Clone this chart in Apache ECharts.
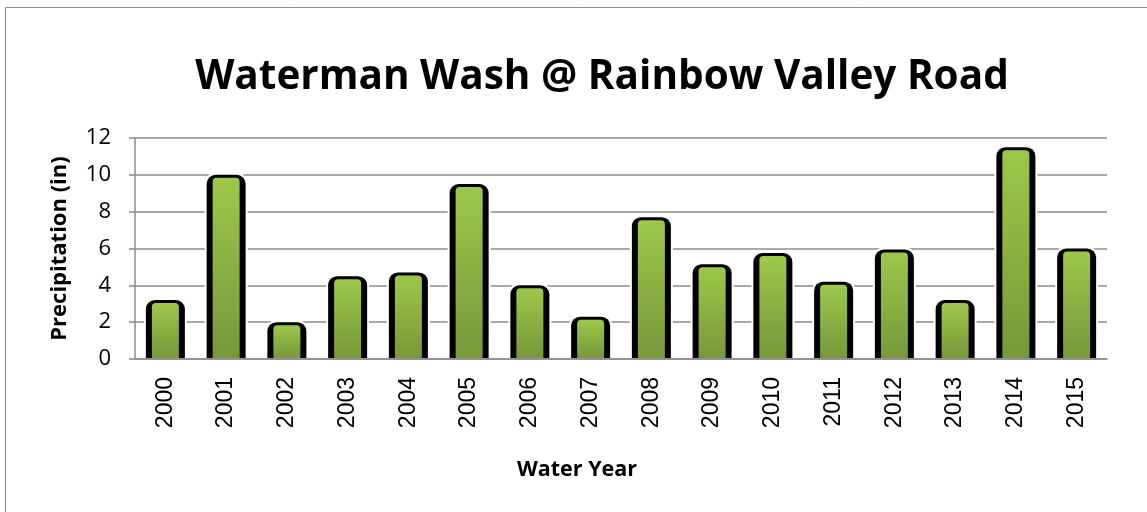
<!DOCTYPE html>
<html>
<head>
<meta charset="utf-8">
<script src="https://cdn.jsdelivr.net/npm/echarts@6/dist/echarts.min.js"></script>
<style>
  html, body { margin: 0; padding: 0; background: #fff; }
  #chart { width: 1147px; height: 512px; }
</style>
</head>
<body>
<div id="chart"></div>
<script>
const years = ['2000', '2001', '2002', '2003', '2004', '2005', '2006', '2007',
  '2008', '2009', '2010', '2011', '2012', '2013', '2014', '2015']
const precip = [3.2, 10.0, 2.0, 4.5, 4.7, 9.5, 4.0, 2.3, 7.7, 5.15, 5.75, 4.2, 5.95, 3.2, 11.5, 6.0]

const chart = echarts.init(document.getElementById('chart'))

// green column with black "shadow" edges and a white halo, like the Excel style
const greenFill = new echarts.graphic.LinearGradient(0, 0, 0, 1, [
  { offset: 0, color: '#9dc84a' },
  { offset: 1, color: '#76983a' }
])

const renderBar = (params, api) => {
  const top = api.coord([api.value(0), api.value(1)])
  const base = api.coord([api.value(0), 0])
  const cx = top[0]
  const h = base[1] - top[1] - 1
  return {
    type: 'group',
    children: [
      {
        type: 'rect',
        shape: { x: cx - 21.5, y: top[1] - 2, width: 43, height: h + 2, r: [11, 11, 0, 0] },
        style: { fill: '#fff' }
      },
      {
        type: 'rect',
        shape: { x: cx - 19.5, y: top[1], width: 39, height: h, r: [9, 9, 0, 0] },
        style: { fill: '#000' }
      },
      {
        type: 'rect',
        shape: { x: cx - 13.5, y: top[1] + 3, width: 27, height: h - 3, r: [4, 4, 0, 0] },
        style: { fill: greenFill }
      }
    ]
  }
}

const option = {
  animation: false,
  title: {
    text: 'Waterman Wash @ Rainbow Valley Road',
    left: 597,
    top: 52,
    textAlign: 'center',
    textStyle: {
      fontFamily: 'Open Sans',
      fontWeight: 'bold',
      fontSize: 40.5,
      color: '#000'
    }
  },
  graphic: [{
    type: 'rect',
    shape: { x: 5.5, y: 7.5, width: 1160, height: 520 },
    style: { fill: 'none', stroke: '#8c8c8c', lineWidth: 1 },
    z: -10
  }],
  grid: { left: 135, right: 40, top: 138, bottom: 153 },
  xAxis: {
    type: 'category',
    data: years,
    name: 'Water Year',
    nameLocation: 'middle',
    nameGap: 100,
    nameTextStyle: {
      fontFamily: 'Open Sans', fontWeight: 'bold', fontSize: 21.5, color: '#000',
      padding: [0, 88, 0, 0]
    },
    axisLine: { lineStyle: { color: '#8c8c8c', width: 1.5 } },
    axisTick: { length: 6, lineStyle: { color: '#8c8c8c', width: 1.5 } },
    axisLabel: { rotate: 90, fontFamily: 'Liberation Sans', fontSize: 23, color: '#000', margin: 18 }
  },
  yAxis: {
    type: 'value',
    min: 0,
    max: 12,
    interval: 2,
    name: 'Precipitation (in)',
    nameLocation: 'middle',
    nameGap: 64,
    nameTextStyle: { fontFamily: 'Open Sans', fontWeight: 'bold', fontSize: 22, color: '#000' },
    axisLine: { show: true, lineStyle: { color: '#8c8c8c', width: 1.5 } },
    axisTick: { show: true, length: 6, lineStyle: { color: '#8c8c8c', width: 1.5 } },
    axisLabel: { fontFamily: 'Open Sans', fontSize: 22, color: '#000', margin: 24 },
    splitLine: { lineStyle: { color: '#8c8c8c', width: 1.5 } }
  },
  series: [{
    type: 'custom',
    renderItem: renderBar,
    encode: { x: 0, y: 1 },
    data: precip.map((v, i) => [i, v])
  }]
}

chart.setOption(option)
</script>
</body>
</html>
